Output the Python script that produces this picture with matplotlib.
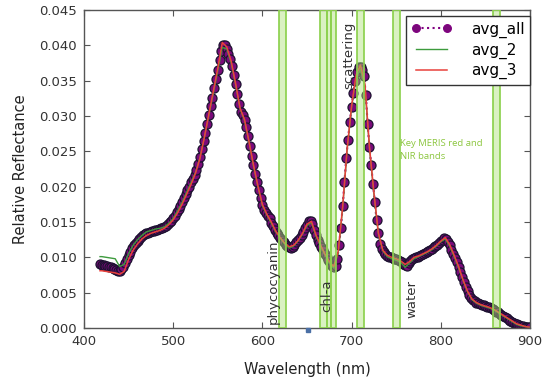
#spectral reflectance plot with key MERIS bands
#importing required libraries
import numpy as np
import matplotlib
matplotlib.use("Agg")
import matplotlib.pyplot as plt

# avg_all read every 2 nm from 418 nm
avg_all = [
    0.0090, 0.0089, 0.0089, 0.0088, 0.0088, 0.0087, 0.0086, 0.0085, 0.0084, 0.0082,
    0.0081, 0.0081, 0.0083, 0.0087, 0.0092, 0.0098, 0.0103, 0.0108, 0.0113, 0.0117,
    0.0120, 0.0123, 0.0126, 0.0129, 0.0131, 0.0133, 0.0134, 0.0135, 0.0136, 0.0137,
    0.0137, 0.0138, 0.0139, 0.0140, 0.0141, 0.0142, 0.0143, 0.0145, 0.0147, 0.0150,
    0.0152, 0.0155, 0.0159, 0.0164, 0.0168, 0.0173, 0.0178, 0.0184, 0.0189, 0.0195,
    0.0200, 0.0206, 0.0211, 0.0216, 0.0223, 0.0232, 0.0242, 0.0253, 0.0264, 0.0276,
    0.0289, 0.0302, 0.0314, 0.0326, 0.0339, 0.0352, 0.0365, 0.0379, 0.0392, 0.0401,
    0.0400, 0.0395, 0.0388, 0.0380, 0.0371, 0.0358, 0.0345, 0.0331, 0.0317, 0.0306,
    0.0301, 0.0294, 0.0284, 0.0271, 0.0257, 0.0244, 0.0230, 0.0218, 0.0206, 0.0195,
    0.0184, 0.0174, 0.0167, 0.0163, 0.0159, 0.0155, 0.0149, 0.0144, 0.0139, 0.0135,
    0.0131, 0.0128, 0.0124, 0.0121, 0.0118, 0.0116, 0.0114, 0.0113, 0.0115, 0.0118,
    0.0121, 0.0124, 0.0127, 0.0131, 0.0136, 0.0141, 0.0146, 0.0151, 0.0152, 0.0147,
    0.0139, 0.0131, 0.0125, 0.0120, 0.0114, 0.0110, 0.0105, 0.0101, 0.0096, 0.0092,
    0.0088, 0.0086, 0.0088, 0.0098, 0.0118, 0.0142, 0.0172, 0.0207, 0.0240, 0.0266,
    0.0292, 0.0313, 0.0333, 0.0350, 0.0362, 0.0369, 0.0370, 0.0365, 0.0356, 0.0330,
    0.0288, 0.0256, 0.0230, 0.0204, 0.0179, 0.0153, 0.0135, 0.0119, 0.0112, 0.0108,
    0.0105, 0.0102, 0.0101, 0.0100, 0.0099, 0.0098, 0.0097, 0.0096, 0.0095, 0.0093,
    0.0091, 0.0089, 0.0088, 0.0092, 0.0095, 0.0097, 0.0099, 0.0100, 0.0101, 0.0102,
    0.0104, 0.0105, 0.0106, 0.0107, 0.0109, 0.0110, 0.0112, 0.0114, 0.0116, 0.0118,
    0.0120, 0.0123, 0.0125, 0.0127, 0.0126, 0.0121, 0.0117, 0.0111, 0.0105, 0.0099,
    0.0093, 0.0086, 0.0079, 0.0072, 0.0065, 0.0058, 0.0052, 0.0047, 0.0043, 0.0040,
    0.0038, 0.0036, 0.0035, 0.0034, 0.0033, 0.0032, 0.0031, 0.0030, 0.0029, 0.0028,
    0.0027, 0.0025, 0.0023, 0.0022, 0.0020, 0.0018, 0.0017, 0.0015, 0.0014, 0.0012,
    0.0010, 0.0009, 0.0007, 0.0006, 0.0005, 0.0004, 0.0003, 0.0003, 0.0002, 0.0002,
    0.0001, 0.0001,
]
wl_all = np.arange(418, 418 + 2 * len(avg_all), 2)

# avg_2 and avg_3 read at 418, 420 and then every 5 nm
wl_line = [418] + list(range(420, 901, 5))
avg_2 = [
    0.0101, 0.0101, 0.0100, 0.0099, 0.0098, 0.0087, 0.0090, 0.0105, 0.0117, 0.0125,
    0.0131, 0.0136, 0.0138, 0.0140, 0.0141, 0.0143, 0.0148, 0.0155, 0.0166, 0.0178,
    0.0192, 0.0206, 0.0220, 0.0241, 0.0270, 0.0301, 0.0332, 0.0364, 0.0397, 0.0395,
    0.0375, 0.0344, 0.0310, 0.0293, 0.0263, 0.0229, 0.0200, 0.0173, 0.0160, 0.0148,
    0.0136, 0.0127, 0.0119, 0.0113, 0.0116, 0.0123, 0.0133, 0.0145, 0.0149, 0.0130,
    0.0116, 0.0104, 0.0092, 0.0085, 0.0106, 0.0170, 0.0252, 0.0312, 0.0355, 0.0366,
    0.0342, 0.0255, 0.0190, 0.0133, 0.0109, 0.0101, 0.0098, 0.0096, 0.0093, 0.0086,
    0.0092, 0.0098, 0.0101, 0.0104, 0.0107, 0.0111, 0.0116, 0.0122, 0.0126, 0.0116,
    0.0101, 0.0085, 0.0067, 0.0051, 0.0040, 0.0035, 0.0032, 0.0030, 0.0028, 0.0025,
    0.0021, 0.0017, 0.0013, 0.0009, 0.0005, 0.0003, 0.0002, 0.0001,
]
avg_3 = [
    0.0081, 0.0081, 0.0080, 0.0079, 0.0078, 0.0076, 0.0080, 0.0097, 0.0110, 0.0119,
    0.0126, 0.0131, 0.0134, 0.0136, 0.0138, 0.0141, 0.0146, 0.0153, 0.0163, 0.0175,
    0.0189, 0.0203, 0.0219, 0.0240, 0.0270, 0.0303, 0.0335, 0.0368, 0.0404, 0.0398,
    0.0378, 0.0346, 0.0311, 0.0295, 0.0264, 0.0231, 0.0201, 0.0175, 0.0161, 0.0150,
    0.0137, 0.0128, 0.0120, 0.0115, 0.0117, 0.0124, 0.0134, 0.0147, 0.0151, 0.0132,
    0.0118, 0.0105, 0.0094, 0.0087, 0.0108, 0.0172, 0.0254, 0.0314, 0.0358, 0.0372,
    0.0345, 0.0257, 0.0192, 0.0135, 0.0110, 0.0103, 0.0100, 0.0098, 0.0095, 0.0090,
    0.0094, 0.0100, 0.0102, 0.0105, 0.0108, 0.0112, 0.0117, 0.0123, 0.0128, 0.0118,
    0.0103, 0.0087, 0.0068, 0.0052, 0.0041, 0.0036, 0.0033, 0.0031, 0.0029, 0.0026,
    0.0022, 0.0018, 0.0014, 0.0010, 0.0006, 0.0004, 0.0002, 0.0001,
]

# key MERIS bands (start, end) in nm
band_start = [619, 665, 672, 677, 706, 746, 858]
band_end = [627, 672, 677, 683, 714, 754, 866]

# labels on the plot
label_text = ["phycocyanin", "chl-a", "water", "scattering"]
label_x = [612, 672.5, 768, 697]
label_y = [0.0005, 0.0023, 0.0014, 0.0433]
label_va = ["bottom", "bottom", "bottom", "top"]

fig = plt.figure(figsize=(5.5, 3.78), dpi=100)
ax = fig.add_axes([0.1527, 0.1323, 0.8109, 0.8412])

ax.plot(wl_all, avg_all, linestyle=":", color="#800080", marker="o",
        markersize=6.5, markerfacecolor="#7a0a7a", markeredgecolor="#1c1230",
        markeredgewidth=0.9, label="avg_all", zorder=2)
ax.plot(wl_line, avg_2, color="#3d9b3d", linewidth=1.0, label="avg_2", zorder=2.1)
ax.plot(wl_line, avg_3, color="#e8413c", linewidth=1.1, label="avg_3", zorder=2.2)

# green band boxes
for s, e in zip(band_start, band_end):
    ax.axvspan(s, e, facecolor=(0.68, 0.88, 0.47, 0.45),
               edgecolor=(0.55, 0.82, 0.30, 0.95), linewidth=1.3, zorder=3)

for t, x, y, va in zip(label_text, label_x, label_y, label_va):
    ax.text(x, y, t, rotation=90, ha="center", va=va, fontsize=9.5,
            color="#333333", zorder=4)

ax.text(754, 0.0268, "Key MERIS red and\nNIR bands", fontsize=6.8,
        family="Open Sans", color="#8cc63f", va="top", ha="left",
        linespacing=1.6, zorder=4)

# small stray blue mark below the axis
stray_mark_nm = 651
ax.plot([stray_mark_nm], [-0.0003], "s", markersize=3, color="#4a6fa5",
        clip_on=False, zorder=5)

ax.set_xlim(400, 900)
ax.set_ylim(0, 0.045)
ax.set_xticks([400, 500, 600, 700, 800, 900])
ax.set_yticks(np.arange(0, 0.0451, 0.005))
ax.set_yticklabels(["%.3f" % v for v in np.arange(0, 0.0451, 0.005)])
ax.tick_params(direction="in", top=True, right=True, length=4,
               labelsize=9.5, labelcolor="#333333", color="#555555", pad=5)
for sp in ax.spines.values():
    sp.set_color("#555555")
    sp.set_linewidth(1.0)

ax.set_xlabel("Wavelength (nm)", fontsize=10.5, color="#222222", labelpad=10)
ax.set_ylabel("Relative Reflectance", fontsize=10.5, color="#222222", labelpad=8)

leg = ax.legend(loc="upper right", bbox_to_anchor=(1.0, 0.98), borderaxespad=0,
                fontsize=11, fancybox=False, framealpha=1, edgecolor="#333333",
                handlelength=2.6, handletextpad=1.3, labelspacing=0.3,
                borderpad=0.35, numpoints=2, markerscale=0.85)
leg.get_frame().set_linewidth(1.0)
leg.set_zorder(6)
# legend dots are plain purple
leg.legend_handles[0].set_markeredgecolor("#800080")

plt.savefig("out.png", dpi=100)
